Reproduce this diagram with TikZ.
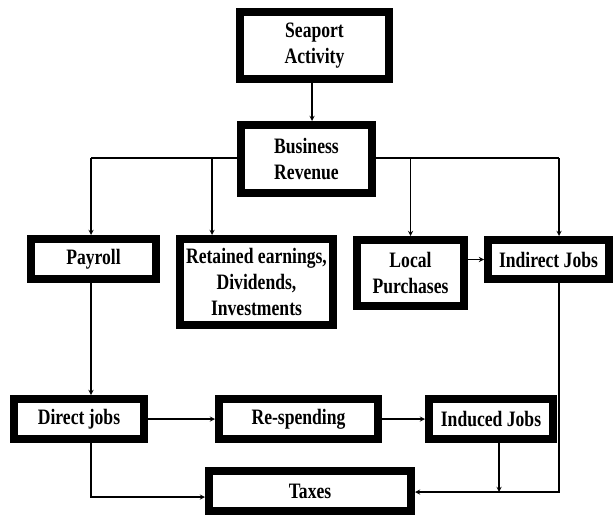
\documentclass[tikz,border=0pt]{standalone}
\usepackage{fontspec}
\setmainfont{Liberation Serif}[FakeStretch=0.8]
\usepackage{tikz}
\usetikzlibrary{arrows}

\tikzset{
  box/.style={draw, line width=8pt, fill=white, align=center, inner sep=0pt,
    font=\bfseries\fontsize{22}{26}\selectfont},
  link/.style={line width=1.3pt, ->, >=stealth}
}

\begin{document}
\begin{tikzpicture}[x=1pt, y=-1pt]
		\useasboundingbox (0,0) rectangle (615,516);
		% top
		\node[box, minimum width=149pt, minimum height=67pt] (sea) at (314.5,45.5) {Seaport\\Activity};
		\node[box, minimum width=131pt, minimum height=68pt] (rev) at (306.5,159) {Business\\Revenue};
		% second row
		\node[box, minimum width=125pt, minimum height=40pt] (pay) at (93.5,259) {Payroll};
		\node[box, minimum width=153pt, minimum height=86pt] (ret) at (256.5,282) {Retained earnings,\\Dividends,\\Investments};
		\node[box, minimum width=107pt, minimum height=66pt] (loc) at (410.5,273) {Local\\Purchases};
		\node[box, minimum width=121pt, minimum height=39pt] (ind) at (548.5,259.5) {Indirect Jobs};
		% jobs row
		\node[box, minimum width=130pt, minimum height=40pt] (dir) at (79,419) {Direct jobs};
		\node[box, minimum width=159pt, minimum height=40pt] (res) at (298.5,419) {Re-spending};
		\node[box, minimum width=124pt, minimum height=40pt] (inu) at (491,419) {Induced Jobs};
		% taxes
		\node[box, minimum width=202pt, minimum height=40pt] (tax) at (310,491) {Taxes};
		% helper points
		\coordinate (lft) at (91,158);
		\coordinate (retin) at (212,158);
		\coordinate (rgt) at (559,158);
		\coordinate (dirdn) at (91,497);
		\coordinate (inddn) at (559,492);
		\coordinate (inudn) at (499,492);
		% arrows
		\draw[link] (sea.south -| 312,0) -- (rev.north -| 312,0);
		\draw[line width=1.3pt] (rev.west |- lft) -- (lft);
		\draw[link] (lft) -- (lft |- pay.north);
		\draw[link] (retin) -- (retin |- ret.north);
		\draw[line width=1.3pt] (rev.east |- rgt) -- (rgt);
		\draw[link] (rgt) -- (rgt |- ind.north);
		\draw[link] (loc.north |- rgt) -- (loc.north);
		\draw[link] (loc.east |- ind.west) -- (ind.west);
		\draw[link] (pay.south -| lft) -- (dir.north -| lft);
		\draw[link] (dir.east |- res.west) -- (res.west);
		\draw[link] (res.east) -- (inu.west);
		\draw[link] (dir.south -| dirdn) -- (dirdn) -- (dirdn -| tax.west);
		\draw[link] (inudn |- inu.south) -- (inudn);
		\draw[link] (ind.south -| inddn) -- (inddn) -- (inddn -| tax.east);
	\end{tikzpicture}
\end{document}
